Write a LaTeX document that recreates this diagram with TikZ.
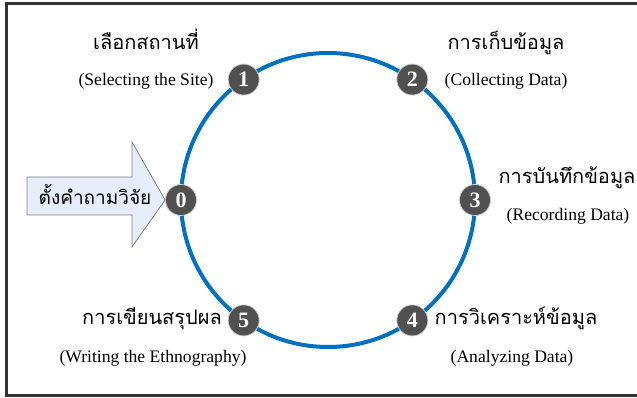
\documentclass[tikz,border=0pt]{standalone}
\usepackage{fontspec}
\setmainfont{Liberation Serif}
\newfontfamily\thaifont[Script=Thai]{Loma}
\usepackage{xcolor}
\usetikzlibrary{positioning}
\definecolor{CYBlue}{HTML}{0070C0}
\definecolor{CYNode}{HTML}{505050}
\definecolor{CYRim}{HTML}{C8C8C8}
\definecolor{CYArrow}{HTML}{E6ECF8}
\definecolor{CYArrowLine}{HTML}{808080}
\definecolor{CYFrame}{HTML}{333333}
\tikzset{
  stepdot/.style={circle,fill=CYNode,draw=CYRim,line width=.8pt,minimum size=31pt,inner sep=0pt,
    text=white,font=\fontsize{22}{22}\selectfont\bfseries},
  thlabel/.style={anchor=base,inner sep=0pt,font=\thaifont\fontsize{20}{22}\selectfont},
  enlabel/.style={anchor=base,inner sep=0pt,font=\fontsize{17.6}{19}\selectfont},
}

\begin{document}
\begin{tikzpicture}[x=1pt,y=1pt]
\path[use as bounding box] (0,0) rectangle (637,398);
\draw[CYFrame,line width=3pt] (637,394) -- (6,394) -- (6,2.5) -- (637,2.5);
\coordinate (cyc) at (328,198);
\draw[CYBlue,line width=4pt] (cyc) circle (147);
\node[stepdot] (s0) at ([shift={(180:147)}]cyc) {0};
\node[stepdot] (s1) at ([shift={(125:147)}]cyc) {1};
\node[stepdot] (s2) at ([shift={(55:147)}]cyc) {2};
\node[stepdot] (s3) at ([shift={(0:147)}]cyc) {3};
\node[stepdot] (s4) at ([shift={(-55:147)}]cyc) {4};
\node[stepdot] (s5) at ([shift={(-125:147)}]cyc) {5};
% arrow into step 0
\filldraw[fill=CYArrow,draw=CYArrowLine,line width=.8pt]
  (27,221) -- (132,221) -- (132,256) -- (s0.west) -- (132,151) -- (132,183) -- (27,183) -- cycle;
\node[thlabel,font=\thaifont\fontsize{19}{22}\selectfont] (q0) at (95,193) {ตั้งคำถามวิจัย};
% labels
\node[thlabel] (t1) at (146,348) {เลือกสถานที่};
\node[enlabel] (e1) at (146,312) {(Selecting the Site)};
\node[thlabel] (t2) at (506,348) {การเก็บข้อมูล};
\node[enlabel] (e2) at (506,312) {(Collecting Data)};
\node[thlabel] (t3) at (567,214) {การบันทึกข้อมูล};
\node[enlabel] (e3) at (568,177) {(Recording Data)};
\node[thlabel] (t4) at (516,73) {การวิเคราะห์ข้อมูล};
\node[enlabel] (e4) at (512,35) {(Analyzing Data)};
\node[thlabel] (t5) at (152,73) {การเขียนสรุปผล};
\node[enlabel] (e5) at (153,35) {(Writing the Ethnography)};
\end{tikzpicture}
\end{document}
